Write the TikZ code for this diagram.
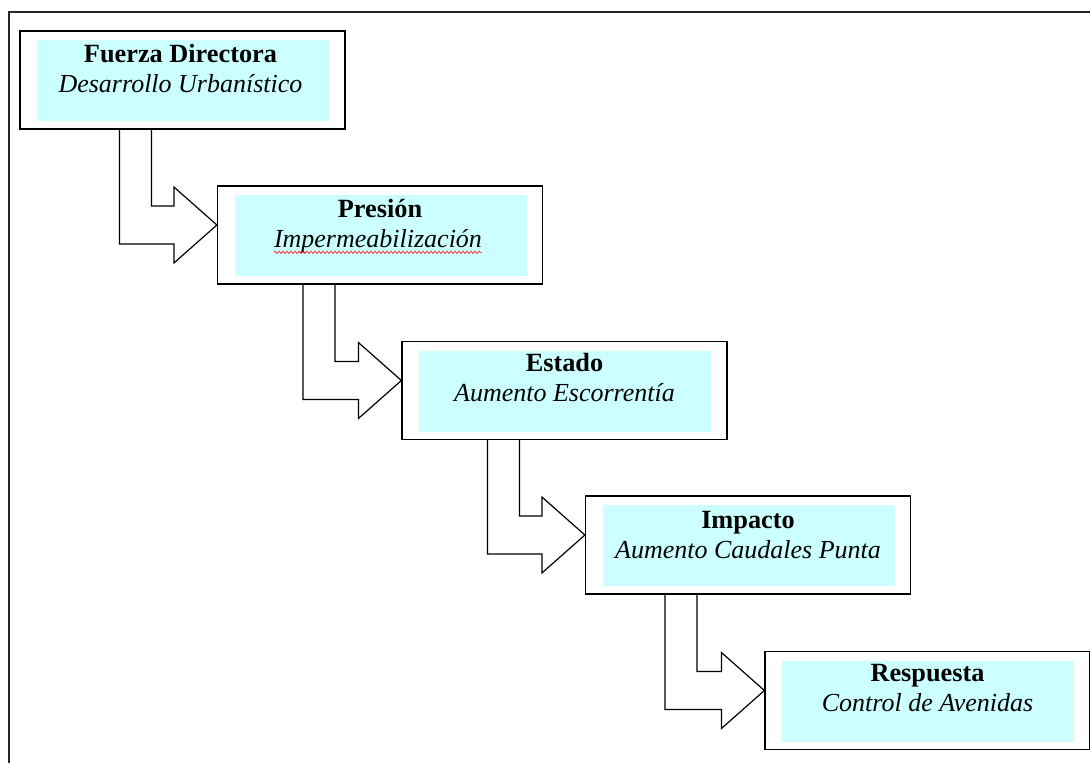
\documentclass[tikz,border=0pt]{standalone}
\usepackage{fontspec}
\setmainfont{Liberation Serif}
\usetikzlibrary{calc,decorations.pathmorphing}
\definecolor{boxcyan}{RGB}{204,255,255}
\tikzset{
  frameline/.style={line width=1.4pt,black!85},
  dpbox/.style={draw=black,line width=1.2pt,minimum width=325pt,minimum height=98pt,inner sep=0pt,
    path picture={\fill[boxcyan] ($(path picture bounding box.south west)+(17pt,8pt)$) rectangle ($(path picture bounding box.north east)+(-16pt,-9pt)$);}},
  ttl/.style={inner sep=0pt,anchor=base,font=\fontsize{26.3}{30}\selectfont\bfseries},
  sub/.style={inner sep=0pt,anchor=base,font=\fontsize{26}{30}\selectfont\itshape},
  arrline/.style={draw=black,line width=1.2pt,line join=miter},
  squiggle/.style={draw=red,line width=0.6pt,decorate,decoration={snake,amplitude=1.1pt,segment length=4pt}}
}
\newcommand\bentarr[3]{%
  \draw[arrline] let \p1=(#1.south west), \p2=($(#2.west)+(0,10pt)$) in
   (\x1+#3,\y1) -- (\x1+#3,\y2-19pt) -- (\x2-43pt,\y2-19pt) -- (\x2-43pt,\y2-38pt) -- (\x2,\y2)
   -- (\x2-43pt,\y2+38pt) -- (\x2-43pt,\y2+19pt) -- (\x1+#3+32pt,\y2+19pt) -- (\x1+#3+32pt,\y1);}
\begin{document}
\begin{tikzpicture}[x=1pt,y=1pt]
\useasboundingbox[fill=white] (0,0) rectangle (1090,-763);
\coordinate (fa) at (9,-763);
\coordinate (fb) at (9,-12);
\coordinate (fc) at (1090,-12);
\draw[frameline] (fa) -- (fb) -- (fc);

\node[dpbox] (b1) at (182.5,-80) {};
\node[dpbox] (b2) at (380,-235) {};
\node[dpbox] (b3) at (564.5,-390.5) {};
\node[dpbox] (b4) at (748,-545) {};
\node[dpbox] (b5) at (927.5,-700.5) {};

\node[ttl] (t1) at ($(b1.north)+(-2pt,-32pt)$) {Fuerza Directora};
\node[sub] (s1) at ($(b1.north)+(-2pt,-62pt)$) {Desarrollo Urbanístico};
\node[ttl] (t2) at ($(b2.north)+(0,-32pt)$) {Presión};
\node[sub] (s2) at ($(b2.north)+(-2pt,-62pt)$) {Impermeabilización};
\node[ttl] (t3) at ($(b3.north)+(0,-31pt)$) {Estado};
\node[sub] (s3) at ($(b3.north)+(0,-61pt)$) {Aumento Escorrentía};
\node[ttl] (t4) at ($(b4.north)+(0,-33pt)$) {Impacto};
\node[sub] (s4) at ($(b4.north)+(0,-63pt)$) {Aumento Caudales Punta};
\node[ttl] (t5) at ($(b5.north)+(0,-31pt)$) {Respuesta};
\node[sub] (s5) at ($(b5.north)+(0,-61pt)$) {Control de Avenidas};

\draw[squiggle] ($(s2.base west)+(0,-5pt)$) -- ($(s2.base east)+(0,-5pt)$);

\bentarr{b1}{b2}{100pt}
\bentarr{b2}{b3}{86pt}
\bentarr{b3}{b4}{86pt}
\bentarr{b4}{b5}{80pt}
\end{tikzpicture}
\end{document}
